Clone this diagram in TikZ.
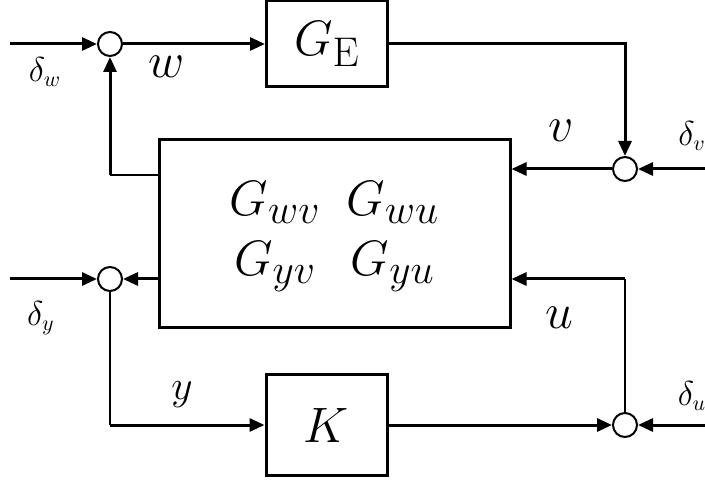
\documentclass[tikz,border=0pt]{standalone}
\usetikzlibrary{arrows.meta}
\begin{document}
\begin{tikzpicture}[x=.5pt,y=-.5pt,line width=1.5pt,
  >={Triangle[length=7.5pt,width=6.5pt]},
  blk/.style={draw,line width=1.5pt,inner sep=0pt,font=\fontsize{30}{30}\selectfont},
  sum/.style={circle,draw,fill=white,line width=1pt,minimum size=12pt,inner sep=0pt},
  thinln/.style={line width=1pt},
  big/.style={font=\fontsize{30}{30}\selectfont},
  mid/.style={font=\fontsize{21}{24}\selectfont},
  sml/.style={font=\fontsize{16}{18}\selectfont}]
 \useasboundingbox (0,0) rectangle (705,485);
 \node[blk,minimum width=60.5pt,minimum height=43pt] (ge) at (327,44) {$G_{\mathrm{E}}$};
 \node[blk,minimum width=175.5pt,minimum height=94pt] (plant) at (334.5,234)
  {\setlength\arraycolsep{6.5pt}$\begin{array}{cc}G_{wv}&G_{wu}\\G_{yv}&G_{yu}\end{array}$};
 \node[blk,minimum width=60.5pt,minimum height=50.5pt] (k) at (326.5,425) {$K$};
 \node[sum] (sw) at (110,44) {};
 \node[sum] (sv) at (625,169) {};
 \node[sum] (sy) at (110,279) {};
 \node[sum] (su) at (625,425) {};
 \coordinate (dw) at (10,44); \coordinate (dv) at (705,169);
 \coordinate (dy) at (10,279); \coordinate (du) at (705,425);
 \coordinate (fw) at (110,175); \coordinate (fu) at (625,279);
 \draw[->] (dw) -- (sw);
 \draw[->] (sw) -- (ge);
 \draw[->] (ge) -| (sv);
 \draw[->] (dv) -- (sv);
 \draw[->] (sv) -- (sv -| plant.east);
 \draw[thinln] (plant.west |- fw) -- (fw); \draw[->] (fw) -- (sw);
 \draw[->] (dy) -- (sy);
 \draw[->] (plant.west |- sy) -- (sy);
 \draw[thinln] (sy) -- (sy |- k.west); \draw[->] (sy |- k.west) -- (k);
 \draw[->] (k) -- (su);
 \draw[->] (du) -- (su);
 \draw[thinln] (su) -- (fu); \draw[->] (fu) -- (plant.east |- fu);
 \node[sml] (ldw) at (45,72) {$\delta_w$};
 \node[big] (lw) at (167,67) {$w$};
 \node[sml] (ldv) at (692,136) {$\delta_v$};
 \node[big] (lv) at (561,131) {$v$};
 \node[sml] (ldy) at (41,318) {$\delta_y$};
 \node[mid] (ly) at (182,395) {$y$};
 \node[big] (lu) at (559,318) {$u$};
 \node[sml] (ldu) at (692,396) {$\delta_u$};
\end{tikzpicture}
\end{document}
